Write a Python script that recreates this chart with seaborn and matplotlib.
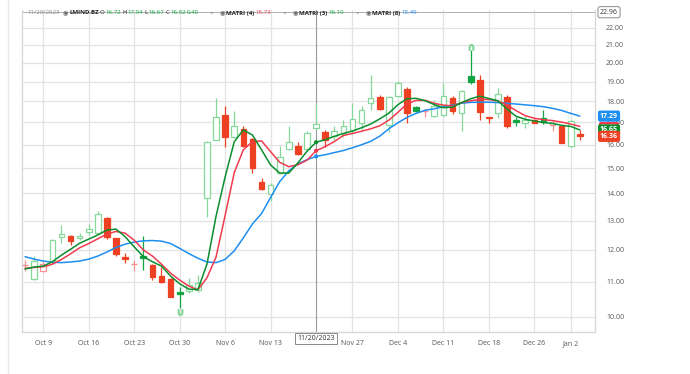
"""
LMIND.BZ daily candles with three triangular moving averages.
"""

import numpy as np
import pandas as pd
import matplotlib
matplotlib.use("Agg")
import matplotlib.pyplot as plt
import seaborn as sns
from matplotlib.ticker import FixedLocator, NullLocator, FuncFormatter
from matplotlib.lines import Line2D

# candles (one per trading day, Oct 5 2023 -> Jan 3 2024)
opens = [11.51, 11.08, 11.34, 11.61, 12.42, 12.48, 12.41, 12.61, 12.58, 13.09,
         12.39, 11.78, 11.54, 11.81, 11.51, 11.16, 11.08, 10.70, 10.73, 10.76,
         13.84, 16.21, 17.33, 16.33, 16.70, 16.24, 14.46, 13.99, 14.82, 15.81,
         15.93, 15.81, 16.72, 16.57, 16.39, 16.50, 16.66, 16.96, 17.94, 18.21,
         16.88, 18.28, 18.61, 17.73, 17.51, 17.30, 17.35, 18.19, 17.46, 19.27,
         19.07, 17.24, 17.46, 18.24, 17.09, 16.96, 17.12, 17.19, 16.87, 16.84,
         15.95, 16.46]
highs = [11.67, 11.81, 11.60, 12.35, 12.85, 12.50, 12.58, 12.88, 13.36, 13.14,
         12.40, 11.89, 11.67, 12.48, 11.55, 11.45, 11.10, 10.85, 11.10, 11.22,
         16.15, 18.16, 17.76, 17.55, 16.81, 16.30, 14.60, 14.40, 15.95, 16.85,
         16.10, 16.62, 17.94, 16.64, 16.81, 17.12, 17.92, 17.76, 19.36, 18.33,
         18.26, 19.05, 18.74, 17.78, 17.63, 18.06, 18.93, 18.28, 18.55, 20.71,
         19.32, 17.26, 18.65, 18.33, 17.24, 17.30, 17.16, 17.56, 17.09, 16.86,
         17.12, 16.66]
lows = [11.33, 11.05, 11.30, 11.55, 12.24, 12.16, 12.33, 12.50, 12.55, 12.36,
        11.80, 11.57, 11.34, 11.36, 11.05, 10.95, 10.54, 10.23, 10.66, 10.71,
        13.14, 16.18, 15.91, 16.30, 15.91, 14.79, 14.15, 13.71, 14.78, 15.78,
        15.55, 15.70, 16.67, 15.91, 16.21, 16.35, 16.46, 16.66, 17.59, 17.59,
        16.57, 18.21, 16.96, 17.50, 17.27, 17.27, 17.30, 17.40, 16.62, 18.90,
        17.12, 16.96, 17.20, 16.73, 16.84, 16.73, 16.95, 16.94, 16.62, 16.05,
        15.88, 16.21]
closes = [11.51, 11.64, 11.54, 12.33, 12.53, 12.30, 12.48, 12.72, 13.23, 12.42,
          11.87, 11.72, 11.54, 11.75, 11.14, 11.00, 10.56, 10.64, 10.90, 10.95,
          16.13, 17.27, 16.33, 16.81, 15.95, 14.99, 14.18, 14.33, 15.47, 16.13,
          15.59, 16.52, 16.92, 16.18, 16.62, 16.85, 17.15, 17.56, 18.16, 17.63,
          18.24, 18.93, 17.46, 17.55, 17.51, 17.78, 18.28, 17.51, 18.53, 18.96,
          17.49, 17.18, 18.38, 16.81, 17.01, 17.12, 16.98, 17.02, 16.96, 16.08,
          17.05, 16.36]

# indicator lines
matri3 = [11.39, 11.45, 11.48, 11.62, 11.83, 12.02, 12.22, 12.36, 12.50, 12.67,
          12.70, 12.44, 12.10, 11.78, 11.62, 11.48, 11.17, 10.94, 10.78, 10.77,
          11.54, 13.16, 14.65, 16.12, 16.65, 16.42, 15.77, 15.13, 14.80, 14.80,
          15.22, 15.71, 16.10, 16.21, 16.36, 16.49, 16.60, 16.75, 16.92, 17.16,
          17.43, 17.84, 18.13, 18.15, 18.03, 17.84, 17.69, 17.72, 17.94, 18.13,
          18.26, 18.14, 18.03, 17.62, 17.28, 17.14, 17.06, 16.99, 16.95, 16.86,
          16.81, 16.65]
matri4 = [11.41, 11.44, 11.46, 11.54, 11.69, 11.87, 12.07, 12.21, 12.37, 12.53,
          12.62, 12.56, 12.32, 12.00, 11.80, 11.54, 11.26, 11.05, 10.87, 10.76,
          11.12, 11.77, 13.19, 14.82, 15.77, 16.12, 16.16, 15.69, 15.24, 15.06,
          15.14, 15.33, 15.73, 15.91, 16.13, 16.40, 16.49, 16.59, 16.70, 16.84,
          17.10, 17.47, 17.88, 18.05, 18.05, 17.90, 17.82, 17.77, 17.94, 18.03,
          18.10, 18.09, 18.02, 17.82, 17.55, 17.31, 17.19, 17.12, 17.08, 17.01,
          16.92, 16.81]
matri8 = [11.78, 11.70, 11.64, 11.60, 11.59, 11.61, 11.64, 11.70, 11.80, 11.93,
          12.08, 12.19, 12.26, 12.30, 12.31, 12.29, 12.21, 12.05, 11.88, 11.73,
          11.61, 11.59, 11.69, 11.97, 12.40, 12.88, 13.25, 13.85, 14.46, 14.89,
          15.18, 15.35, 15.49, 15.56, 15.65, 15.74, 15.86, 15.99, 16.14, 16.37,
          16.70, 16.98, 17.23, 17.42, 17.57, 17.64, 17.74, 17.82, 17.91, 17.95,
          17.96, 17.96, 17.94, 17.90, 17.87, 17.83, 17.79, 17.74, 17.66, 17.56,
          17.42, 17.29]

tick_pos = [2, 7, 12, 17, 22, 27, 36, 41, 46, 51, 56, 60]
tick_labels = ['Oct 9', 'Oct 16', 'Oct 23', 'Oct 30', 'Nov 6', 'Nov 13',
               'Nov 27', 'Dec 4', 'Dec 11', 'Dec 18', 'Dec 26', 'Jan 2']
cross_idx = 32
cross_label = '11/20/2023'
cross_price = 22.96

LIGHT_GREEN = '#86d99a'
DARK_GREEN = '#13a544'
RED = '#ee4023'
LIGHT_RED = '#f4928f'
LINE_GREEN = '#0b8f2e'
LINE_RED = '#f23b4f'
LINE_BLUE = '#1e8ef0'

sns.set_style("white")
plt.rcParams['font.family'] = ['Open Sans', 'DejaVu Sans']

W, H = 690, 374
fig = plt.figure(figsize=(W / 100, H / 100), dpi=100)
ax = fig.add_axes([22 / W, 1 - 332 / H, (595 - 22) / W, (332 - 10) / H])

df = pd.DataFrame({'o': opens, 'h': highs, 'l': lows, 'c': closes})
df['idx'] = np.arange(len(df))
up_day = (df['c'] >= df['c'].shift(1)).to_numpy()
hollow = (df['c'] >= df['o']).to_numpy()

for i, row in df.iterrows():
    if hollow[i]:
        col = LIGHT_GREEN if up_day[i] else LIGHT_RED
    else:
        col = DARK_GREEN if up_day[i] else RED
    ax.vlines(i, row['l'], row['h'], color=col, lw=0.9, zorder=2)
    lo, hi = min(row['o'], row['c']), max(row['o'], row['c'])
    if hi - lo < 1e-6:
        ax.hlines(lo, i - 0.31, i + 0.31, color=col, lw=1.0, zorder=3)
    else:
        ax.bar(i, hi - lo, bottom=lo, width=0.62,
               facecolor='white' if hollow[i] else col,
               edgecolor=col, lw=0.9, zorder=3)

# max / min markers
ax.plot(49, 20.9, marker=r'$\cap$', ms=4, color=LIGHT_GREEN, zorder=3)
ax.plot(17, 10.13, marker=r'$\cup$', ms=4, color=LIGHT_GREEN, zorder=3)

lines = pd.DataFrame({'idx': df['idx'], 'MATRI (3)': matri3,
                      'MATRI (4)': matri4, 'MATRI (8)': matri8})
lines = lines.melt(id_vars='idx', var_name='series', value_name='value')
sns.lineplot(data=lines, x='idx', y='value', hue='series',
             palette={'MATRI (3)': LINE_GREEN, 'MATRI (4)': LINE_RED,
                      'MATRI (8)': LINE_BLUE},
             hue_order=['MATRI (8)', 'MATRI (4)', 'MATRI (3)'],
             lw=1.1, legend=False, ax=ax, zorder=4)

ax.scatter([cross_idx] * 3,
           [matri3[cross_idx], matri4[cross_idx], matri8[cross_idx]],
           c=[LINE_GREEN, LINE_RED, LINE_BLUE], s=9, zorder=5, linewidths=0)

ax.set_yscale('log')
ax.set_ylim(9.59, 23.1)
ax.set_xlim(-0.34, 62.67)
ax.yaxis.tick_right()
ax.yaxis.set_major_locator(FixedLocator(np.arange(10, 23)))
ax.yaxis.set_minor_locator(NullLocator())
ax.yaxis.set_major_formatter(FuncFormatter(lambda v, p: f"{v:.2f}"))
ax.set_xticks(tick_pos)
ax.set_xticklabels(tick_labels)
ax.set_xlabel('')
ax.set_ylabel('')
ax.grid(True, color='#e3e3e3', lw=0.9, zorder=0)
ax.set_axisbelow(True)
ax.tick_params(axis='y', length=0, pad=8, labelsize=5, labelcolor='#555555')
ax.tick_params(axis='x', length=3, color='#dddddd', pad=3, labelsize=5,
               labelcolor='#555555')
for side in ['left', 'right', 'bottom']:
    ax.spines[side].set_color('#d6d6d6')
    ax.spines[side].set_linewidth(0.9)
ax.spines['top'].set_visible(False)

# crosshair
ax.axvline(cross_idx, color='#9a9a9a', lw=0.8, zorder=1)
ax.axhline(cross_price, color='#b0b0b0', lw=0.7, zorder=1)
ax.text(cross_idx, -0.01, cross_label, transform=ax.get_xaxis_transform(),
        ha='center', va='top', fontsize=5, color='#333333', clip_on=False,
        bbox=dict(boxstyle='square,pad=0.3', fc='white', ec='#8a8a8a', lw=0.7))

# price tags on the right axis (they stack on each other like in the app)
ytr = ax.get_yaxis_transform()
tag_x = 1.0245
ax.text(tag_x, cross_price, f"{cross_price:.2f}", transform=ytr, ha='center',
        va='center', fontsize=5, color='#333333', clip_on=False,
        bbox=dict(boxstyle='round,pad=0.3', fc='white', ec='#8a8a8a', lw=0.7))
for val, col, size in [(matri4[-1], LINE_RED, 4.6), (matri8[-1], LINE_BLUE, 5),
                       (matri3[-1], LINE_GREEN, 5), (closes[-1], RED, 5)]:
    ax.text(tag_x, val, f"{val:.2f}", transform=ytr, ha='center', va='center',
            fontsize=size, color='white', weight='bold', clip_on=False, zorder=6,
            bbox=dict(boxstyle='round,pad=0.3', fc=col, ec='none'))

# header line, each group starts where it does in the app
fig.canvas.draw()
renderer = fig.canvas.get_renderer()
groups = [
    (27, [('11/20/2023', '#8a8a8a', 'normal')]),
    (63, [('\u25c9', '#666666', 'normal'), ('LMIND.BZ', '#222222', 'bold'),
          ('O', '#222222', 'normal'), ('16.72', DARK_GREEN, 'normal'),
          ('H', '#222222', 'normal'), ('17.94', DARK_GREEN, 'normal'),
          ('L', '#222222', 'normal'), ('16.67', DARK_GREEN, 'normal'),
          ('C', '#222222', 'normal'), ('16.92', DARK_GREEN, 'normal'),
          ('0.40', DARK_GREEN, 'normal')]),
    (210, [('\u00d7', '#888888', 'normal')]),
    (220, [('\u25c9', '#666666', 'normal'), ('MATRI (4)', '#222222', 'bold'),
           ('15.73', LINE_RED, 'normal')]),
    (283, [('\u00d7', '#888888', 'normal')]),
    (293, [('\u25c9', '#666666', 'normal'), ('MATRI (3)', '#222222', 'bold'),
           ('16.10', DARK_GREEN, 'normal')]),
    (356, [('\u00d7', '#888888', 'normal')]),
    (366, [('\u25c9', '#666666', 'normal'), ('MATRI (8)', '#222222', 'bold'),
           ('15.49', LINE_BLUE, 'normal')]),
]
for x0, pieces in groups:
    x = x0
    for txt, col, wt in pieces:
        t = fig.text(x / W, 1 - 13 / H, txt, color=col, weight=wt,
                     fontsize=4.4, ha='left', va='center')
        x += t.get_window_extent(renderer).width + 1.0

# page border at the far left
fig.add_artist(Line2D([8 / W, 8 / W], [0, 1], color='#e6e6e6', lw=0.9))

fig.savefig('out.png', dpi=100)
